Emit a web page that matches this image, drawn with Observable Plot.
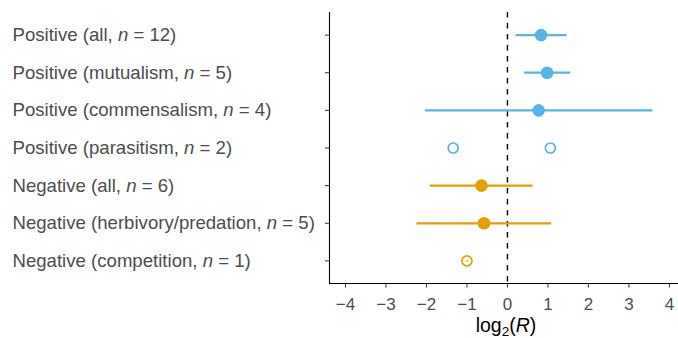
<!DOCTYPE html>
<html>
<head>
<meta charset="utf-8">
<script src="https://cdn.jsdelivr.net/npm/d3@7"></script>
<script src="https://cdn.jsdelivr.net/npm/@observablehq/plot@0.6"></script>
<style>
  html, body { margin: 0; padding: 0; background: #fff; }
  #chart { width: 678px; height: 338px; }
  svg { font-family: "Liberation Sans", Arial, Helvetica, sans-serif; }
</style>
</head>
<body>
<div id="chart"></div>
<script>
// ---- data ----
const categories = [
  "Positive (all, n = 12)",
  "Positive (mutualism, n = 5)",
  "Positive (commensalism, n = 4)",
  "Positive (parasitism, n = 2)",
  "Negative (all, n = 6)",
  "Negative (herbivory/predation, n = 5)",
  "Negative (competition, n = 1)"
];
const groups = ["Positive", "Positive", "Positive", "Positive", "Negative", "Negative", "Negative"];
// mean estimates with confidence intervals (null = not available)
const estimates = [0.83, 0.98, 0.77, null, -0.64, -0.58, null];
const lowers    = [0.20, 0.41, -2.04, null, -1.92, -2.25, null];
const uppers    = [1.46, 1.55, 3.58, null, 0.62, 1.08, null];
// individual observations shown as open circles
const openCategories = [
  "Positive (parasitism, n = 2)",
  "Positive (parasitism, n = 2)",
  "Negative (competition, n = 1)"
];
const openGroups = ["Positive", "Positive", "Negative"];
const openValues = [-1.34, 1.06, -1.0];
const xTicks = [-4, -3, -2, -1, 0, 1, 2, 3, 4];
const groupDomain = ["Positive", "Negative"];
const groupColors = ["#56B4E9", "#E69F00"];

const summary = categories.map((c, i) => ({
  cat: c, group: groups[i], est: estimates[i], lo: lowers[i], hi: uppers[i]
})).filter(d => d.est !== null);
const opens = openCategories.map((c, i) => ({cat: c, group: openGroups[i], x: openValues[i]}));

const chart = Plot.plot({
  width: 678,
  height: 338,
  marginLeft: 329,
  marginRight: 1,
  marginTop: 12,
  marginBottom: 55,
  style: {fontFamily: "'Liberation Sans', Arial, sans-serif", background: "white"},
  x: {domain: [-4.395, 4.2], ticks: xTicks},
  y: {type: "point", domain: categories, padding: 0.6, round: false},
  color: {domain: groupDomain, range: groupColors},
  marks: [
    Plot.ruleX([0], {stroke: "#000", strokeWidth: 1.4, strokeDasharray: "5.5,5.5"}),
    Plot.link(summary, {x1: "lo", x2: "hi", y1: "cat", y2: "cat", stroke: "group", strokeWidth: 2.2}),
    Plot.dot(summary, {x: "est", y: "cat", r: 6.3, fill: "group"}),
    Plot.dot(opens, {x: "x", y: "cat", r: 5, stroke: "group", strokeWidth: 1.7, fill: "white"}),
    Plot.dot(opens.filter(d => d.group === "Negative"), {x: "x", y: "cat", r: 0.9, fill: "group"}),
    Plot.axisX({ticks: xTicks, tickSize: 4.5, tickPadding: 10, fontSize: 17, label: null,
      stroke: "#333", fill: "#4D4D4D", tickFormat: d => d < 0 ? "\u2212" + Math.abs(d) : String(d)}),
    Plot.axisY({tickSize: 4, tickFormat: () => "", label: null, stroke: "#333"}),
    Plot.axisY({tickSize: 0, tickPadding: 0, fontSize: 18.6, label: null, textAnchor: "start", dx: -317,
      fill: "#4D4D4D"}),
    Plot.frame({anchor: "left", stroke: "#000", strokeWidth: 1.1}),
    Plot.frame({anchor: "bottom", stroke: "#000", strokeWidth: 1.1})
  ]
});

// italicize the "n" in the y tick labels
d3.select(chart).selectAll('g[aria-label="y-axis tick label"] text').each(function() {
  const t = d3.select(this);
  const s = t.text();
  const m = s.match(/^(.*, )n( = .*)$/);
  if (m) {
    t.text(null);
    t.append("tspan").text(m[1]);
    t.append("tspan").attr("font-style", "italic").text("n");
    t.append("tspan").text(m[2]);
  }
});

// x axis title: log2(R)
const title = d3.select(chart).append("text")
  .attr("x", 506).attr("y", 332)
  .attr("text-anchor", "middle")
  .attr("font-size", 19.5)
  .attr("fill", "#000");
title.append("tspan").text("log");
title.append("tspan").attr("font-size", 13.5).attr("dy", 4).text("2");
title.append("tspan").attr("dy", -4).text("(");
title.append("tspan").attr("font-style", "italic").text("R");
title.append("tspan").text(")");

document.getElementById("chart").appendChild(chart);
</script>
</body>
</html>
